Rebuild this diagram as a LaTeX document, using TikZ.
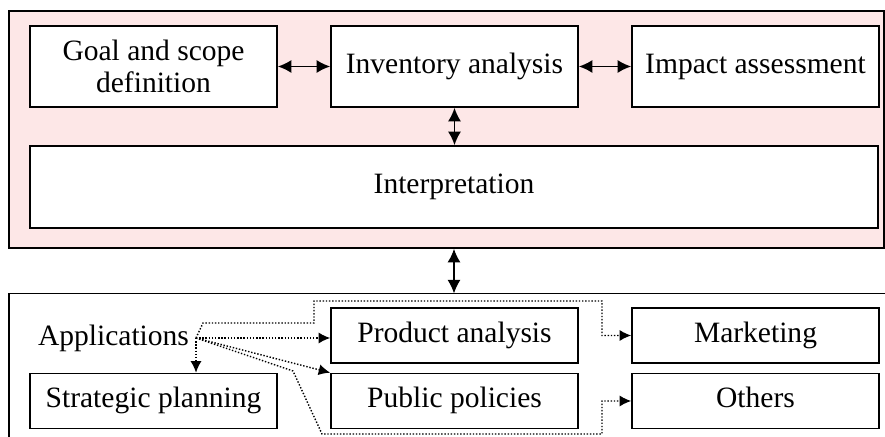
\documentclass[tikz,border=0pt]{standalone}
\usepackage{fontspec}
\setmainfont{Liberation Serif}
\usetikzlibrary{arrows.meta}
\definecolor{lcapink}{RGB}{253,231,231}

\begin{document}
\begin{tikzpicture}[scale=0.2]
\tikzstyle{every node}+=[inner sep=0pt, font=\fontsize{16.8}{18.5}\selectfont]
\tikzstyle{box}=[draw, line width=0.9pt, fill=white, minimum width=4.94cm, minimum height=1.62cm, align=center]
\tikzstyle{lowbox}=[box, minimum height=1.1cm, text height=11.5pt, text depth=3.6pt]
\tikzstyle{twoway}=[{Latex[length=2.7mm,width=2.6mm]}-{Latex[length=2.7mm,width=2.6mm]}, line width=1pt]
\tikzstyle{dots}=[densely dotted, line width=0.8pt, -{Latex[length=2.3mm,width=2.2mm]}]
\clip (0,0) rectangle (88.5,-43.7);
\useasboundingbox (0,0) rectangle (88.5,-43.7);
% LCA framework
\node [draw, line width=0.9pt, fill=lcapink, minimum width=17.5cm, minimum height=4.74cm] (frame) at (44.65,-12.95) {};
\node [box] (goal) at (15.35,-6.65) {Goal and scope\\definition};
\node [box] (inv) at (45.45,-6.65) {Inventory analysis};
\node [box] (impact) at (75.55,-6.65) {Impact assessment};
\node [box, minimum width=16.96cm, minimum height=1.64cm] (interp) at (45.4,-18.7) {Interpretation};
\draw [twoway] (goal) -- (inv);
\draw [twoway] (inv) -- (impact);
\draw [twoway] (inv.south) -- (inv.south |- interp.north);
% applications
\draw [line width=0.9pt] (88.6,-29.35) -- (0.9,-29.35) -- (0.9,-44);
\coordinate (apptop) at (45.4,-29.35);
\draw [twoway] (frame.south -| apptop) -- (apptop);
\node (apps) at (11.35,-33.8) {Applications};
\coordinate (appout) at (19.6,-33.8);
\node [lowbox] (product) at (45.45,-33.55) {Product analysis};
\node [lowbox] (public) at (45.45,-40.1) {Public policies};
\node [lowbox] (market) at (75.55,-33.55) {Marketing};
\node [lowbox] (others) at (75.55,-40.1) {Others};
\node [lowbox] (strat) at (15.35,-40.1) {Strategic planning};
\draw [dots] (appout) -- (20.3,-32.3) -- (31.4,-32.3) -- (31.4,-30.1) -- (60.2,-30.1) |- (market.west);
\draw [dots] (appout) -- (product.west |- appout);
\draw [dots] (appout) -- (public.north west);
\draw [dots] (appout) -- (29.3,-37.1) -- (32.2,-43.4) -- (60.2,-43.4) |- (others.west);
\draw [dots] (appout) -- (appout |- strat.north);
\end{tikzpicture}
\end{document}
